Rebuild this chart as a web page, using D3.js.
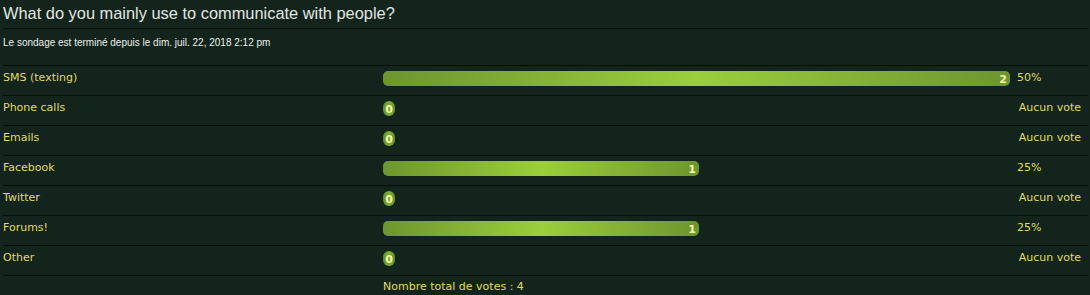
<!DOCTYPE html>
<html>
<head>
<meta charset="utf-8">
<script src="https://cdn.jsdelivr.net/npm/d3@7"></script>
<style>
  html, body { margin: 0; padding: 0; background: #12241b; }
  svg { display: block; }
</style>
</head>
<body>
<div id="chart"></div>
<script>
const title = 'What do you mainly use to communicate with people?';
const subtitle = 'Le sondage est terminé depuis le dim. juil. 22, 2018 2:12 pm';
const options = ['SMS (texting)', 'Phone calls', 'Emails', 'Facebook', 'Twitter', 'Forums!', 'Other'];
const votes = [2, 0, 0, 1, 0, 1, 0];
const noVoteLabel = 'Aucun vote';
const totalLabel = 'Nombre total de votes : ';

const width = 1090, height = 295;
const rowTop = 65, rowH = 30;
const barX = 383, barMaxW = 627;
const total = d3.sum(votes);

const svg = d3.select('#chart').append('svg')
    .attr('width', width)
    .attr('height', height);

// bar gradients: dark olive edges, bright lime middle
const defs = svg.append('defs');
function addGrad(id, edge, mid) {
    const g = defs.append('linearGradient')
        .attr('id', id)
        .attr('x1', '0%').attr('x2', '100%').attr('y1', '0%').attr('y2', '0%');
    g.append('stop').attr('offset', '0%').attr('stop-color', edge);
    g.append('stop').attr('offset', '50%').attr('stop-color', mid);
    g.append('stop').attr('offset', '100%').attr('stop-color', edge);
}
addGrad('barGrad', '#6c962f', '#9bcf3b');
addGrad('pillGrad', '#5f8c2b', '#7fb036');

const y = d3.scaleBand()
    .domain(options)
    .range([rowTop, rowTop + rowH * options.length]);

const x = d3.scaleLinear()
    .domain([0, d3.max(votes)])
    .range([5, barMaxW]);

// title + subtitle
svg.append('text')
    .attr('x', 3).attr('y', 19)
    .attr('font-family', 'Liberation Sans, Arial, sans-serif')
    .attr('font-size', '16.4px')
    .attr('fill', '#e2e6e2')
    .text(title);

svg.append('text')
    .attr('x', 3).attr('y', 46)
    .attr('font-family', 'Liberation Sans, Arial, sans-serif')
    .attr('font-size', '10px')
    .attr('fill', '#ecefec')
    .text(subtitle);

// separators
const lineYs = [28].concat(options.map(d => y(d)), [rowTop + rowH * options.length]);
svg.selectAll('.sep')
    .data(lineYs)
    .enter()
    .append('line')
    .attr('class', 'sep')
    .attr('x1', 3).attr('x2', 1088)
    .attr('y1', d => d + 0.5).attr('y2', d => d + 0.5)
    .attr('stroke', '#050f0a')
    .attr('stroke-width', 1);

const rows = svg.selectAll('.row')
    .data(options.map((o, i) => ({ option: o, votes: votes[i] })))
    .enter()
    .append('g')
    .attr('class', 'row')
    .attr('transform', d => `translate(0,${y(d.option)})`);

rows.append('text')
    .attr('x', 3).attr('y', 16)
    .attr('font-family', 'DejaVu Sans, Verdana, sans-serif')
    .attr('font-size', '11px')
    .attr('fill', '#e2da62')
    .text(d => d.option);

rows.append('rect')
    .attr('x', barX)
    .attr('y', 6)
    .attr('width', d => d.votes ? x(d.votes) : 12)
    .attr('height', 15)
    .attr('rx', d => d.votes ? 5 : 6)
    .attr('fill', d => d.votes ? 'url(#barGrad)' : 'url(#pillGrad)');

rows.append('text')
    .attr('x', d => d.votes ? barX + x(d.votes) - 3 : barX + 6)
    .attr('y', 18)
    .attr('text-anchor', d => d.votes ? 'end' : 'middle')
    .attr('font-family', 'DejaVu Sans, Verdana, sans-serif')
    .attr('font-size', '11px')
    .attr('font-weight', 'bold')
    .attr('fill', '#f6f4a8')
    .text(d => d.votes);

rows.append('text')
    .attr('x', d => d.votes ? 1017 : 1081)
    .attr('y', 16)
    .attr('text-anchor', d => d.votes ? 'start' : 'end')
    .attr('font-family', 'DejaVu Sans, Verdana, sans-serif')
    .attr('font-size', '11px')
    .attr('fill', '#e2da62')
    .text(d => d.votes ? Math.round(d.votes / total * 100) + '%' : noVoteLabel);

svg.append('text')
    .attr('x', barX).attr('y', 290)
    .attr('font-family', 'DejaVu Sans, Verdana, sans-serif')
    .attr('font-size', '11px')
    .attr('fill', '#e2da62')
    .text(totalLabel + total);
</script>
</body>
</html>
